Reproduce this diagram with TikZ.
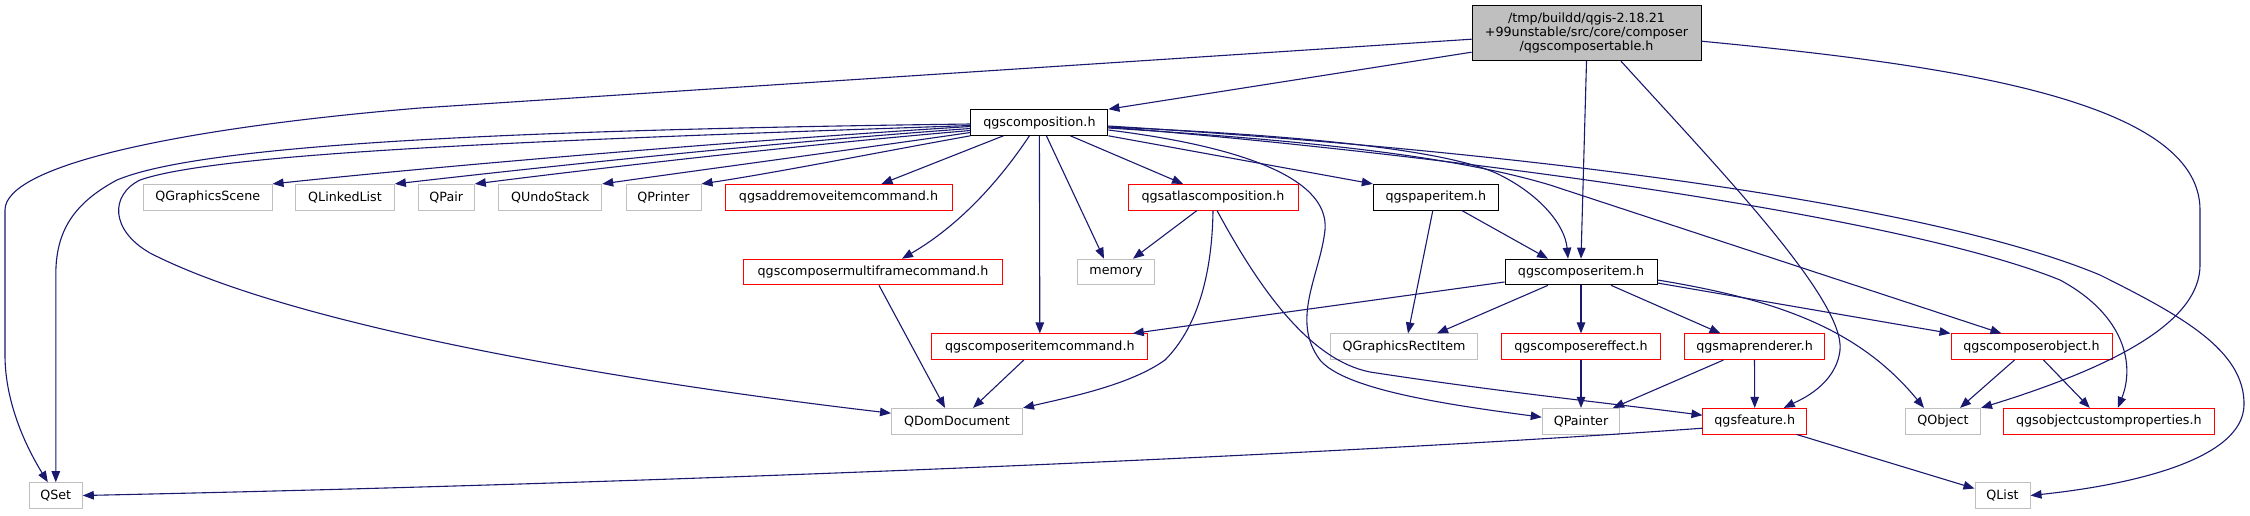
\documentclass[tikz,border=0pt]{standalone}
\usepackage{fontspec}
\newfontfamily\dejavu{DejaVu Sans}
\usetikzlibrary{arrows.meta}
\definecolor{edgec}{HTML}{191970}
\definecolor{grayb}{HTML}{BFBFBF}
\definecolor{redb}{HTML}{FF0000}
\definecolor{mainfill}{HTML}{BFBFBF}
\begin{document}
\begin{tikzpicture}[x=1pt,y=-1pt,
  nd/.style={draw, fill=white, line width=1pt, inner sep=0pt, minimum height=25.6pt,
    font=\dejavu\fontsize{12.7}{14.2}\selectfont},
  docb/.style={nd, draw=black},
  undoc/.style={nd, draw=grayb},
  trunc/.style={nd, draw=redb},
  mainb/.style={nd, draw=black, fill=mainfill, align=center},
  dep/.style={draw=edgec, line width=1.1pt, -{Triangle[length=11pt,width=8.5pt]}, edgec}
]
\useasboundingbox (0,0) rectangle (2250,515);
\fill[white] (0,0) rectangle (2250,515);

% nodes
\node[mainb, minimum width=229pt, minimum height=55pt] (main) at (1586.5,33.2)
  {/tmp/buildd/qgis-2.18.21\\+99unstable/src/core/composer\\/qgscomposertable.h};
\node[docb, minimum width=137pt] (comp) at (1039.4,122.5) {qgscomposition.h};
\node[undoc, minimum width=128.7pt] (qgs) at (207.7,197.2) {QGraphicsScene};
\node[undoc, minimum width=98.7pt] (qll) at (345,197.2) {QLinkedList};
\node[undoc, minimum width=56pt] (qpair) at (446.3,197.2) {QPair};
\node[undoc, minimum width=102.8pt] (qundo) at (550.3,197.2) {QUndoStack};
\node[undoc, minimum width=75pt] (qprinter) at (663.5,197.2) {QPrinter};
\node[trunc, minimum width=227pt] (addrem) at (838.5,197.2) {qgsaddremoveitemcommand.h};
\node[trunc, minimum width=170pt] (atlas) at (1213,197.2) {qgsatlascomposition.h};
\node[docb, minimum width=125pt] (paper) at (1435.8,197.2) {qgspaperitem.h};
\node[trunc, minimum width=259.4pt] (multi) at (873,272) {qgscomposermultiframecommand.h};
\node[undoc, minimum width=77pt] (memory) at (1116,272) {memory};
\node[docb, minimum width=152pt] (item) at (1581,272) {qgscomposeritem.h};
\node[trunc, minimum width=216pt] (itemcmd) at (1039.8,346.7) {qgscomposeritemcommand.h};
\node[undoc, minimum width=146.6pt] (rect) at (1404,346.7) {QGraphicsRectItem};
\node[trunc, minimum width=159pt] (effect) at (1581,346.7) {qgscomposereffect.h};
\node[trunc, minimum width=139.7pt] (mapr) at (1754.5,346.7) {qgsmaprenderer.h};
\node[trunc, minimum width=161pt] (obj) at (2031.5,346.7) {qgscomposerobject.h};
\node[undoc, minimum width=131pt] (qdom) at (957,421.2) {QDomDocument};
\node[undoc, minimum width=77.5pt] (qpainter) at (1581,421.2) {QPainter};
\node[trunc, minimum width=103.5pt] (feat) at (1754.7,421.2) {qgsfeature.h};
\node[undoc, minimum width=75pt] (qobject) at (1943,421.2) {QObject};
\node[trunc, minimum width=210.5pt] (props) at (2108.8,421.2) {qgsobjectcustomproperties.h};
\node[undoc, minimum width=53pt] (qset) at (55.8,495.5) {QSet};
\node[undoc, minimum width=55pt] (qlist) at (2002.5,495.5) {QList};

% edges from main
\draw[dep] ([yshift=-6pt]main.west) -- (420,108) .. controls (180,128) and (5,165) .. (5,210)
  -- (5,355) .. controls (5,405) and (28,450) .. ([xshift=-8pt]qset.north);
\draw[dep] ([yshift=-19pt]main.west) -- (comp.north east);
\draw[dep] (main.south) -- (item.north);
\draw[dep] ([xshift=34.5pt]main.south) .. controls (1720,170) and (1845,300) .. (1840,350)
  .. controls (1836,385) and (1800,400) .. ([xshift=29pt]feat.north);
\draw[dep] ([yshift=-8pt]main.east) .. controls (1950,65) and (2200,100) .. (2200,210)
  -- (2200,265) .. controls (2200,320) and (2120,365) .. (qobject.north east);

% edges from qgscomposition.h
\draw[dep] ([yshift=-1.5pt]comp.west) .. controls (500,130) and (200,145) .. (117,180)
  .. controls (70,205) and (55.8,235) .. (55.8,275) -- (qset.north);
\draw[dep] ([yshift=-3pt]comp.west) .. controls (550,140) and (220,152) .. (140,180)
  .. controls (110,195) and (110,230) .. (150,253)
  .. controls (300,330) and (650,385) .. ([yshift=8pt]qdom.west);
\draw[dep] ([yshift=-4pt]comp.west) .. controls (750,140) and (450,165) .. (qgs.north east);
\draw[dep] ([yshift=-6pt]comp.west) .. controls (780,142) and (560,165) .. (qll.north east);
\draw[dep] ([yshift=-8pt]comp.west) .. controls (800,145) and (600,168) .. (qpair.north east);
\draw[dep] ([yshift=-10pt]comp.west) .. controls (850,150) and (700,170) .. (qundo.north east);
\draw[dep] (comp.south west) .. controls (880,152) and (780,172) .. (qprinter.north east);
\draw[dep] ([xshift=-36pt]comp.south) -- ([xshift=43pt]addrem.north);
\draw[dep] ([xshift=-10pt]comp.south) .. controls (1000,180) and (960,225) .. ([xshift=29pt]multi.north);
\draw[dep] (comp.south) -- (itemcmd.north);
\draw[dep] ([xshift=7pt]comp.south) -- ([xshift=-12pt]memory.north);
\draw[dep] ([xshift=31pt]comp.south) -- ([xshift=-30pt]atlas.north);
\draw[dep] (comp.south east) -- (paper.north west);
\draw[dep] ([yshift=-7.5pt]comp.east) .. controls (1230,145) and (1330,175) .. (1325,230)
  .. controls (1320,275) and (1290,320) .. (1320,360)
  .. controls (1345,390) and (1450,405) .. ([yshift=4pt]qpainter.west);
\draw[dep] ([yshift=-4.5pt]comp.east) .. controls (1300,135) and (1450,150) .. (1500,175)
  .. controls (1540,195) and (1565,225) .. ([xshift=-13pt]item.north);
\draw[dep] ([yshift=-5.5pt]comp.east) .. controls (1300,140) and (1450,155) .. (1550,185)
  -- ([xshift=-30pt]obj.north);
\draw[dep] ([yshift=-4.5pt]comp.east) .. controls (1450,155) and (1900,215) .. (2060,280)
  .. controls (2125,315) and (2135,365) .. ([xshift=9pt]props.north);
\draw[dep] ([yshift=-3.5pt]comp.east) .. controls (1500,150) and (1920,200) .. (2100,275)
  .. controls (2180,315) and (2245,350) .. (2244,405)
  .. controls (2243,460) and (2130,485) .. (qlist.east);

% atlas
\draw[dep] ([xshift=-16pt]atlas.south) -- ([xshift=17pt]memory.north);
\draw[dep] (atlas.south) .. controls (1212,280) and (1195,330) .. (1165,360)
  .. controls (1130,385) and (1070,397) .. (qdom.north east);
\draw[dep] ([xshift=4pt]atlas.south) .. controls (1260,290) and (1310,360) .. (1370,372)
  .. controls (1500,392) and (1600,402) .. ([yshift=6pt]feat.west);

% paper item
\draw[dep] ([xshift=-3pt]paper.south) -- ([xshift=4pt]rect.north);
\draw[dep] ([xshift=26pt]paper.south) -- ([xshift=-33pt]item.north);

% composer item
\draw[dep] ([yshift=-10pt]item.west) -- ([xshift=93pt]itemcmd.north);
\draw[dep] ([xshift=-33pt]item.south) -- ([xshift=33pt]rect.north);
\draw[dep] (item.south) -- (effect.north);
\draw[dep] ([xshift=30pt]item.south) -- ([xshift=-34pt]mapr.north);
\draw[dep] ([yshift=-11pt]item.east) -- (obj.north west);
\draw[dep] ([yshift=-8pt]item.east) .. controls (1780,300) and (1860,330) .. ([xshift=-19pt]qobject.north);

% lower
\draw[dep] ([xshift=-16pt]itemcmd.south) -- ([xshift=16pt]qdom.north);
\draw[dep] ([xshift=6pt]multi.south) -- ([xshift=-12pt]qdom.north);
\draw[dep] (effect.south) -- (qpainter.north);
\draw[dep] ([xshift=-31pt]mapr.south) -- ([xshift=32pt]qpainter.north);
\draw[dep] (mapr.south) -- (feat.north);
\draw[dep] ([xshift=-17pt]obj.south) -- ([xshift=17pt]qobject.north);
\draw[dep] ([xshift=12pt]obj.south) -- ([xshift=-19pt]props.north);
\draw[dep] ([yshift=-7pt]feat.west) .. controls (1400,450) and (800,480) .. (qset.east);
\draw[dep] ([xshift=42pt]feat.south) -- ([yshift=7pt]qlist.west);
\end{tikzpicture}
\end{document}
